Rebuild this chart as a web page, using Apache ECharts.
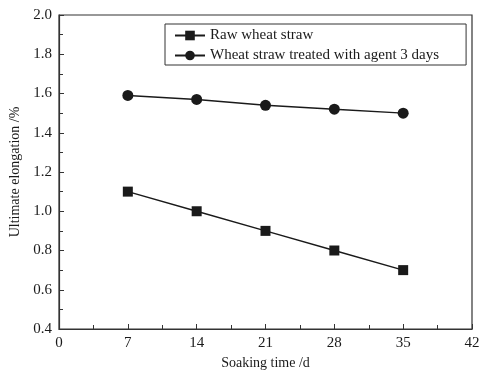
<!DOCTYPE html>
<html>
<head>
<meta charset="utf-8">
<script src="https://cdn.jsdelivr.net/npm/echarts@6/dist/echarts.min.js"></script>
<style>
  html, body { margin: 0; padding: 0; background: #fff; }
  #main { width: 480px; height: 370px; }
</style>
</head>
<body>
<div id="main"></div>
<script>
var soakDays = [7, 14, 21, 28, 35];
var rawStraw = [1.10, 1.00, 0.90, 0.80, 0.70];
var treatedStraw = [1.59, 1.57, 1.54, 1.52, 1.50];
var seriesNames = ['Raw wheat straw', 'Wheat straw treated with agent 3 days'];

var chart = echarts.init(document.getElementById('main'));
var font = 'Liberation Serif';
var ink = '#1a1a1a';

function pairs(xs, ys) {
	var out = [];
	for (var i = 0; i < xs.length; i++) {
		out.push([xs[i], ys[i]]);
	}
	return out;
}

var option = {
	animation: false,
	backgroundColor: '#fff',
	grid: {
		left: 59, right: 8, top: 15, bottom: 41,
		outerBoundsMode: 'none', containLabel: false,
		show: true, borderColor: '#333', borderWidth: 1.2
	},
	legend: {
		left: 165, top: 24,
		orient: 'vertical',
		borderColor: '#333', borderWidth: 1,
		padding: [4, 27, 2, 9],
		itemWidth: 30, itemHeight: 12, itemGap: 5,
		textStyle: { fontFamily: font, fontSize: 15, color: ink },
		data: seriesNames
	},
	xAxis: {
		type: 'value', min: 0, max: 42, interval: 7,
		name: 'Soaking time /d', nameLocation: 'middle', nameGap: 25,
		nameTextStyle: { fontFamily: font, fontSize: 14, color: ink },
		axisLine: { lineStyle: { color: '#333', width: 1.2 } },
		axisTick: { inside: true, length: 5, lineStyle: { color: '#333' } },
		minorTick: { show: true, splitNumber: 2, length: 4, lineStyle: { color: '#333' } },
		axisLabel: { fontFamily: font, fontSize: 15, color: ink, margin: 7 },
		splitLine: { show: false }
	},
	yAxis: {
		type: 'value', min: 0.4, max: 2.0, interval: 0.2,
		name: 'Ultimate elongation /%', nameLocation: 'middle', nameGap: 31,
		nameTextStyle: { fontFamily: font, fontSize: 14, color: ink },
		axisLine: { show: true, lineStyle: { color: '#333', width: 1.2 } },
		axisTick: { show: true, inside: true, length: 5, lineStyle: { color: '#333' } },
		minorTick: { show: true, splitNumber: 2, length: 4, lineStyle: { color: '#333' } },
		axisLabel: {
			fontFamily: font, fontSize: 15, color: ink, margin: 7,
			formatter: function (v) { return v.toFixed(1); }
		},
		splitLine: { show: false }
	},
	series: [
		{
			name: seriesNames[0], type: 'line',
			data: pairs(soakDays, rawStraw),
			symbol: 'rect', symbolSize: 10,
			lineStyle: { color: ink, width: 1.5 },
			itemStyle: { color: ink }
		},
		{
			name: seriesNames[1], type: 'line',
			data: pairs(soakDays, treatedStraw),
			symbol: 'circle', symbolSize: 11,
			lineStyle: { color: ink, width: 1.5 },
			itemStyle: { color: ink }
		}
	]
};

chart.setOption(option);
</script>
</body>
</html>
